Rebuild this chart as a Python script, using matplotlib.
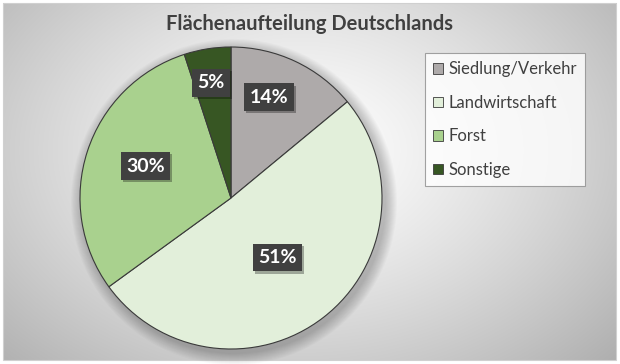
import numpy as np
import matplotlib.pyplot as plt
import matplotlib.patheffects as pe
from matplotlib.patches import Rectangle, Circle

plt.rcParams['font.family'] = ['Lato', 'DejaVu Sans']

categories = ['Siedlung/Verkehr', 'Landwirtschaft', 'Forst', 'Sonstige']
shares = [14, 51, 30, 5]
labels = ['14%', '51%', '30%', '5%']
colors = ['#aeaaaa', '#e2efda', '#a9d18e', '#375623']
# label placement inside each wedge (radial fraction, angle offset in degrees)
label_dist = [0.712, 0.50, 0.605, 0.775]
label_shift = [4.5, 0.2, -2.5, 0.8]

W, H = 620, 364
fig = plt.figure(figsize=(W / 100, H / 100), dpi=100)

# background with radial gradient
bg = fig.add_axes([0, 0, 1, 1])
bg.set_xlim(0, W)
bg.set_ylim(H, 0)
bg.axis('off')
yy, xx = np.mgrid[0:H, 0:W]
d = np.sqrt(((xx - 300) / 420) ** 2 + ((yy - 150) / 300) ** 2)
g = np.clip(1.0 - 0.30 * d ** 1.3, 0, 1)
img = np.dstack([g, g, g])
bg.imshow(img, extent=[3, W - 3, H - 4, 3], zorder=0, aspect='auto')
bg.add_patch(Rectangle((3, 3), W - 7, H - 7, fill=False, ec='#d0d0d0', lw=0.8))

# soft shadow behind pie
cx, cy, r = 231, 198, 151
for k in range(12):
    bg.add_patch(Circle((cx + 3, cy + 4), r + 12 - k, color='#000000',
                        alpha=0.018, lw=0, zorder=1))

fig.text(310 / W, 1 - 24 / H, 'Flächenaufteilung Deutschlands', ha='center',
         va='center', fontsize=14.5, fontweight='bold', color='#404040')

ax = fig.add_axes([(cx - r) / W, 1 - (cy + r) / H, 2 * r / W, 2 * r / H])
ax.set_aspect('equal')
wedges, _ = ax.pie(shares, colors=colors, startangle=90, counterclock=False,
                   wedgeprops=dict(edgecolor='#3a3a3a', linewidth=0.8))
ax.set_xlim(-1, 1)
ax.set_ylim(-1, 1)

for w, lab, dist, sh in zip(wedges, labels, label_dist, label_shift):
    ang = np.deg2rad((w.theta1 + w.theta2) / 2 + sh)
    x, y = dist * np.cos(ang), dist * np.sin(ang)
    t = ax.text(x, y, lab, ha='center', va='center', fontsize=14,
                fontweight='bold', color='white',
                bbox=dict(boxstyle='square,pad=0.28', fc='#404040', ec='none'))
    t.get_bbox_patch().set_path_effects(
        [pe.SimplePatchShadow(offset=(1.5, -1.5), shadow_rgbFace='black', alpha=0.3),
         pe.Normal()])

leg = fig.legend(wedges, categories, loc='upper left',
                 bbox_to_anchor=(425 / W, 1 - 53 / H), borderaxespad=0,
                 fontsize=12, frameon=True, fancybox=False, handlelength=0.6,
                 handleheight=0.6, handletextpad=0.3, labelspacing=1.05,
                 borderpad=0.5, labelcolor='#404040')
leg.get_frame().set_edgecolor('#8c8c8c')
leg.get_frame().set_linewidth(0.8)
for h in leg.legend_handles:
    h.set_linewidth(0.6)

fig.savefig('out.png', dpi=100)
